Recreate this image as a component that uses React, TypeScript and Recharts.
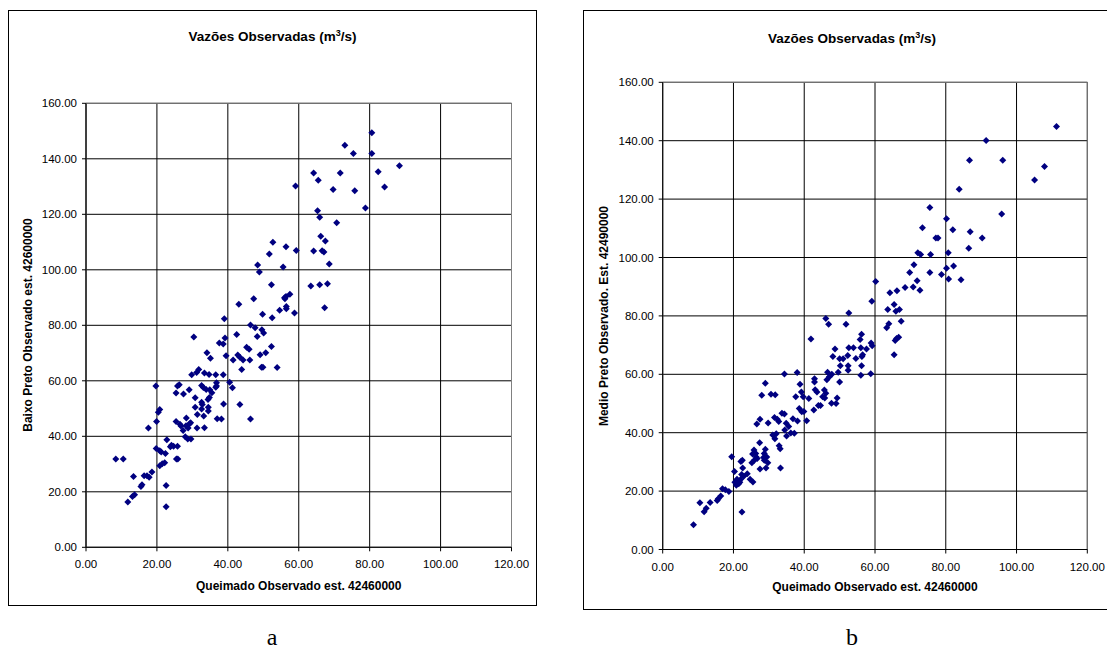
import { ScatterChart, Scatter, XAxis, YAxis, CartesianGrid, ReferenceArea } from 'recharts'

// ticks shared by both panels
const xTicks = [0, 20, 40, 60, 80, 100, 120]
const yTicks = [0, 20, 40, 60, 80, 100, 120, 140, 160]

// panel a: Queimado (x) vs Baixo Preto (y)
const queimadoA = [
  80.6, 73.0, 75.4, 80.6, 88.4, 64.2, 71.7, 82.4, 65.5, 59.1, 84.2, 69.7, 75.8, 78.8, 65.3, 65.9,
  70.7, 66.2, 67.5, 52.7, 56.4, 51.7, 59.3, 64.2, 66.6, 67.1, 68.6, 48.4, 55.6,
  48.9, 52.3, 63.4, 65.9, 68.1, 56.0, 56.4, 57.5, 56.1, 47.3, 43.1, 56.5, 56.5, 54.6, 58.8, 67.3,
  49.8, 52.5, 39.0, 46.4, 47.7, 49.6, 50.1, 48.3, 42.5, 30.4, 39.2, 37.6, 38.7, 52.3, 45.3, 46.0,
  34.1, 39.5, 35.1, 42.8, 43.4, 44.3, 46.2, 41.5, 49.1, 50.7, 49.5, 49.9, 53.9, 43.9, 31.8, 31.2,
  29.8, 33.4, 34.7, 36.6, 38.7, 40.5, 41.3, 36.8, 36.8, 36.6, 32.6, 33.1, 33.9, 34.9, 35.5, 19.7,
  26.3, 25.8, 25.4, 27.5, 29.1, 30.8, 34.8, 34.4, 32.6, 32.8, 38.8, 43.4, 30.8, 34.5, 32.6, 20.8,
  20.4, 34.5, 31.4, 33.2, 37.0, 38.2, 46.4, 28.3, 17.6, 19.9, 25.4, 26.5, 26.8, 28.2, 29.5, 29.2,
  28.8, 31.3, 33.4, 27.4, 28.0, 28.7, 29.6, 22.8,
  24.1, 24.7, 25.8, 23.8, 19.8, 20.8, 21.2, 22.4, 8.4, 10.5, 25.5, 25.9, 20.8, 21.5, 22.2, 18.6,
  16.4, 17.2, 17.8, 13.4, 15.5, 15.8, 22.6, 13.7, 13.1, 11.8, 22.6,
]
const baixoPreto = [
  149.4, 144.9, 141.9, 141.9, 137.5, 134.9, 134.9, 135.3, 132.3, 130.2, 129.8, 128.9, 128.5, 122.3, 121.3, 118.9,
  117.0, 112.1, 110.4, 109.9, 108.3, 105.7, 107.0, 106.8, 106.9, 106.4, 102.1, 101.7, 101.0,
  99.2, 94.6, 94.2, 94.6, 95.0, 89.9, 90.4, 91.2, 89.6, 89.6, 87.6, 86.8, 86.0, 85.4, 84.4, 86.3,
  84.0, 82.7, 82.4, 80.1, 79.1, 78.4, 77.2, 76.0, 76.7, 75.8, 75.4, 73.6, 73.3, 72.4, 72.1, 71.4,
  70.1, 69.0, 68.1, 69.3, 68.5, 67.5, 67.5, 67.5, 69.4, 70.1, 64.9, 64.9, 64.8, 64.1, 64.1, 63.0,
  62.2, 62.8, 62.3, 62.2, 62.2, 59.5, 57.5, 59.3, 58.1, 57.7, 58.3, 57.6, 56.9, 56.8, 55.7, 58.1,
  58.6, 58.1, 55.6, 55.2, 56.8, 53.9, 54.0, 53.3, 52.3, 51.5, 51.6, 51.5, 50.5, 50.5, 49.8, 49.7,
  48.7, 49.1, 47.9, 47.3, 46.3, 46.2, 46.2, 46.6, 43.0, 45.3, 45.3, 44.3, 43.7, 43.8, 44.9, 44.5,
  43.0, 43.0, 43.1, 42.1, 39.8, 39.0, 39.0, 38.8,
  36.8, 36.4, 36.4, 36.2, 35.6, 34.8, 34.3, 33.8, 31.8, 31.8, 31.8, 31.8, 29.4, 30.1, 30.5, 27.1,
  25.8, 25.8, 25.2, 25.5, 21.9, 22.5, 22.3, 18.9, 18.3, 16.3, 14.6,
]

// panel b: Queimado (x) vs Medio Preto (y)
const queimadoB = [
  111.3, 91.4, 86.7, 96.1, 107.9, 105.1, 83.8, 75.5, 95.8, 80.2, 73.4, 82.0, 86.9, 77.2, 77.8, 90.3,
  86.5, 72.1, 72.9, 75.7, 80.7, 71.0, 80.2, 82.2,
  69.8, 75.5, 78.8, 80.8, 84.3, 60.2, 68.5, 70.8, 71.9, 72.7, 64.2, 66.2, 59.1, 63.6, 65.4, 65.9,
  66.9, 67.4, 52.6, 46.1, 46.9, 51.8, 63.9, 63.3, 41.9, 66.1, 66.7, 65.7, 56.2, 55.8, 58.9, 59.2,
  48.7, 52.6, 53.9, 56.0, 57.6, 48.1, 50.0, 51.0, 52.3, 54.6, 56.3, 56.5, 50.2, 52.4, 52.4, 56.2,
  56.0, 58.8, 65.4, 34.4, 38.0, 46.6, 47.8, 47.1, 46.4, 49.6, 50.0, 42.9, 42.9, 29.0, 38.8, 39.2,
  43.1, 43.6, 45.7, 46.1, 28.0, 30.6, 31.8, 37.6, 39.7, 41.3, 45.2, 45.8, 49.3, 47.7, 49.0, 44.0,
  44.6, 38.6, 39.3, 39.9, 42.7, 40.7, 38.1, 36.8, 33.7, 34.4, 31.6, 32.4, 32.8, 27.5, 26.6, 29.8,
  34.9, 35.6, 34.5, 36.2, 37.2, 35.0, 31.1, 32.1, 31.7, 32.9, 33.2, 27.4, 25.8, 26.3, 25.4, 29.0,
  28.7, 28.5, 26.7, 19.5, 22.5,
  22.1, 22.6, 20.3, 25.2, 25.9, 26.4, 27.5, 29.2, 29.7, 28.7, 29.4, 33.3, 21.0, 21.8, 20.4, 22.3,
  22.9, 23.9, 24.7, 25.5, 21.5, 22.0, 20.8, 16.9, 17.7, 18.7, 16.4, 15.7, 15.4, 13.4, 10.5, 12.3,
  11.7, 22.4, 8.7,
]
const medioPreto = [
  144.9, 140.1, 133.3, 133.3, 131.2, 126.5, 123.4, 117.1, 114.9, 113.3, 110.2, 109.5, 108.8, 106.7, 106.7, 106.7,
  103.2, 101.6, 101.0, 101.0, 101.6, 97.5, 96.3, 97.1,
  94.9, 94.9, 94.2, 92.6, 92.4, 91.8, 89.7, 89.9, 92.0, 88.8, 87.9, 88.6, 85.0, 82.2, 83.9, 81.6,
  82.2, 78.2, 81.0, 79.1, 77.1, 77.1, 77.3, 75.9, 72.1, 72.3, 72.7, 71.6, 73.7, 71.9, 70.7, 69.8,
  68.7, 69.1, 69.1, 69.1, 68.7, 66.1, 65.3, 65.3, 66.4, 65.4, 66.1, 66.7, 62.9, 62.9, 61.4, 62.9,
  59.7, 60.2, 66.7, 60.1, 60.6, 60.7, 60.0, 59.2, 58.1, 60.7, 57.4, 58.5, 57.4, 56.9, 56.6, 53.9,
  54.7, 53.9, 54.6, 53.5, 52.8, 53.2, 53.0, 52.3, 52.3, 51.7, 52.3, 51.9, 51.9, 50.1, 50.0, 49.3,
  49.3, 48.3, 47.2, 47.3, 47.8, 44.1, 44.0, 44.8, 46.7, 46.4, 45.2, 44.6, 43.8, 44.6, 43.0, 43.3,
  43.2, 42.1, 40.9, 39.9, 39.8, 38.9, 39.2, 39.6, 37.9, 35.5, 34.5, 36.6, 34.1, 32.9, 32.7, 34.3,
  32.9, 31.5, 31.2, 31.8, 30.6,
  30.1, 27.9, 26.7, 29.7, 30.6, 31.7, 27.6, 27.9, 29.7, 30.6, 31.7, 27.9, 24.1, 23.0, 23.0, 25.7,
  25.1, 25.9, 24.1, 23.1, 22.5, 24.0, 22.0, 20.8, 20.5, 19.9, 18.3, 17.4, 16.8, 16.1, 16.0, 14.1,
  12.9, 12.8, 8.5,
]

const dataA = queimadoA.map((x, i) => ({ x, y: baixoPreto[i] }))
const dataB = queimadoB.map((x, i) => ({ x, y: medioPreto[i] }))

const sans = '"Liberation Sans", Arial, sans-serif'
const navy = '#000080'

// excel style diamond marker
function Diamond(props: any) {
  const { cx, cy } = props
  if (cx == null || cy == null) return null
  const r = 3.5
  return <path d={`M${cx},${cy - r}L${cx + r},${cy}L${cx},${cy + r}L${cx - r},${cy}Z`} fill={navy} />
}

const fmt = (v: number) => v.toFixed(2)
const tickStyle = { fill: '#000', fontSize: 11.5, fontFamily: sans }

interface PanelProps {
  left: number
  top: number
  width: number
  height: number
  margin: { top: number; right: number; bottom: number; left: number }
  data: { x: number; y: number }[]
  yTitle: string
  titleTop: number
  xTitleTop: number
  yTitleCenter: [number, number]
}

function Panel({ left, top, width, height, margin, data, yTitle, titleTop, xTitleTop, yTitleCenter }: PanelProps) {
  const cw = width - 2
  const ch = height - 2
  const plotLeft = margin.left + 60
  const plotWidth = cw - plotLeft - margin.right
  return (
    <div
      style={{
        position: 'absolute',
        left,
        top,
        width,
        height,
        boxSizing: 'border-box',
        border: '1px solid #000',
        background: '#fff',
        fontFamily: sans,
      }}
    >
      <div
        style={{
          position: 'absolute',
          left: 0,
          top: titleTop,
          width: '100%',
          textAlign: 'center',
          fontWeight: 'bold',
          fontSize: 13.5,
          lineHeight: '16px',
        }}
      >
        Vazões Observadas (m<span style={{ fontSize: 9, position: 'relative', top: -5 }}>3</span>/s)
      </div>
      <ScatterChart width={cw} height={ch} margin={margin} style={{ position: 'absolute', left: 0, top: 0 }}>
        <CartesianGrid stroke="#000" strokeWidth={1} horizontal vertical />
        <ReferenceArea x1={0} x2={120} y1={0} y2={160} fill="none" fillOpacity={0} stroke="#808080" strokeWidth={1} />
        <XAxis
          type="number"
          dataKey="x"
          domain={[0, 120]}
          ticks={xTicks}
          tickFormatter={fmt}
          tick={tickStyle}
          axisLine={{ stroke: '#000' }}
          tickLine={{ stroke: '#000' }}
          tickSize={4}
          tickMargin={9}
          height={30}
          interval={0}
        />
        <YAxis
          type="number"
          dataKey="y"
          domain={[0, 160]}
          ticks={yTicks}
          tickFormatter={fmt}
          tick={tickStyle}
          axisLine={{ stroke: '#000' }}
          tickLine={{ stroke: '#000' }}
          tickSize={4}
          tickMargin={5}
          width={60}
          interval={0}
        />
        <Scatter data={data} fill={navy} shape={Diamond} isAnimationActive={false} />
      </ScatterChart>
      <div
        style={{
          position: 'absolute',
          left: plotLeft,
          top: xTitleTop,
          width: plotWidth,
          textAlign: 'center',
          fontWeight: 'bold',
          fontSize: 12,
          lineHeight: '16px',
          whiteSpace: 'nowrap',
        }}
      >
        Queimado Observado est. 42460000
      </div>
      <div
        style={{
          position: 'absolute',
          left: yTitleCenter[0] - 200,
          top: yTitleCenter[1] - 8,
          width: 400,
          textAlign: 'center',
          fontWeight: 'bold',
          fontSize: 12,
          lineHeight: '16px',
          whiteSpace: 'nowrap',
          transform: 'rotate(-90deg)',
        }}
      >
        {yTitle}
      </div>
    </div>
  )
}

export default function App() {
  return (
    <div
      style={{
        position: 'absolute',
        left: 0,
        top: 0,
        width: 1107,
        height: 664,
        overflow: 'hidden',
        background: '#fff',
      }}
    >
      <Panel
        left={8}
        top={10}
        width={529}
        height={596}
        margin={{ top: 92.3, right: 24.5, bottom: 27.7, left: 17 }}
        data={dataA}
        yTitle="Baixo Preto Observado est. 42600000"
        titleTop={18.3}
        xTitleTop={566.5}
        yTitleCenter={[19, 314.3]}
      />
      <Panel
        left={583}
        top={10}
        width={538}
        height={600}
        margin={{ top: 71.3, right: 32.7, bottom: 29.5, left: 18.7 }}
        data={dataB}
        yTitle="Medio Preto Observado. Est. 42490000"
        titleTop={19.5}
        xTitleTop={568}
        yTitleCenter={[19.7, 305]}
      />
      <div
        style={{
          position: 'absolute',
          left: 222,
          top: 622,
          width: 100,
          textAlign: 'center',
          fontFamily: '"Liberation Serif", "Times New Roman", serif',
          fontSize: 24,
          lineHeight: '30px',
        }}
      >
        a
      </div>
      <div
        style={{
          position: 'absolute',
          left: 802,
          top: 622,
          width: 100,
          textAlign: 'center',
          fontFamily: '"Liberation Serif", "Times New Roman", serif',
          fontSize: 24,
          lineHeight: '30px',
        }}
      >
        b
      </div>
    </div>
  )
}
